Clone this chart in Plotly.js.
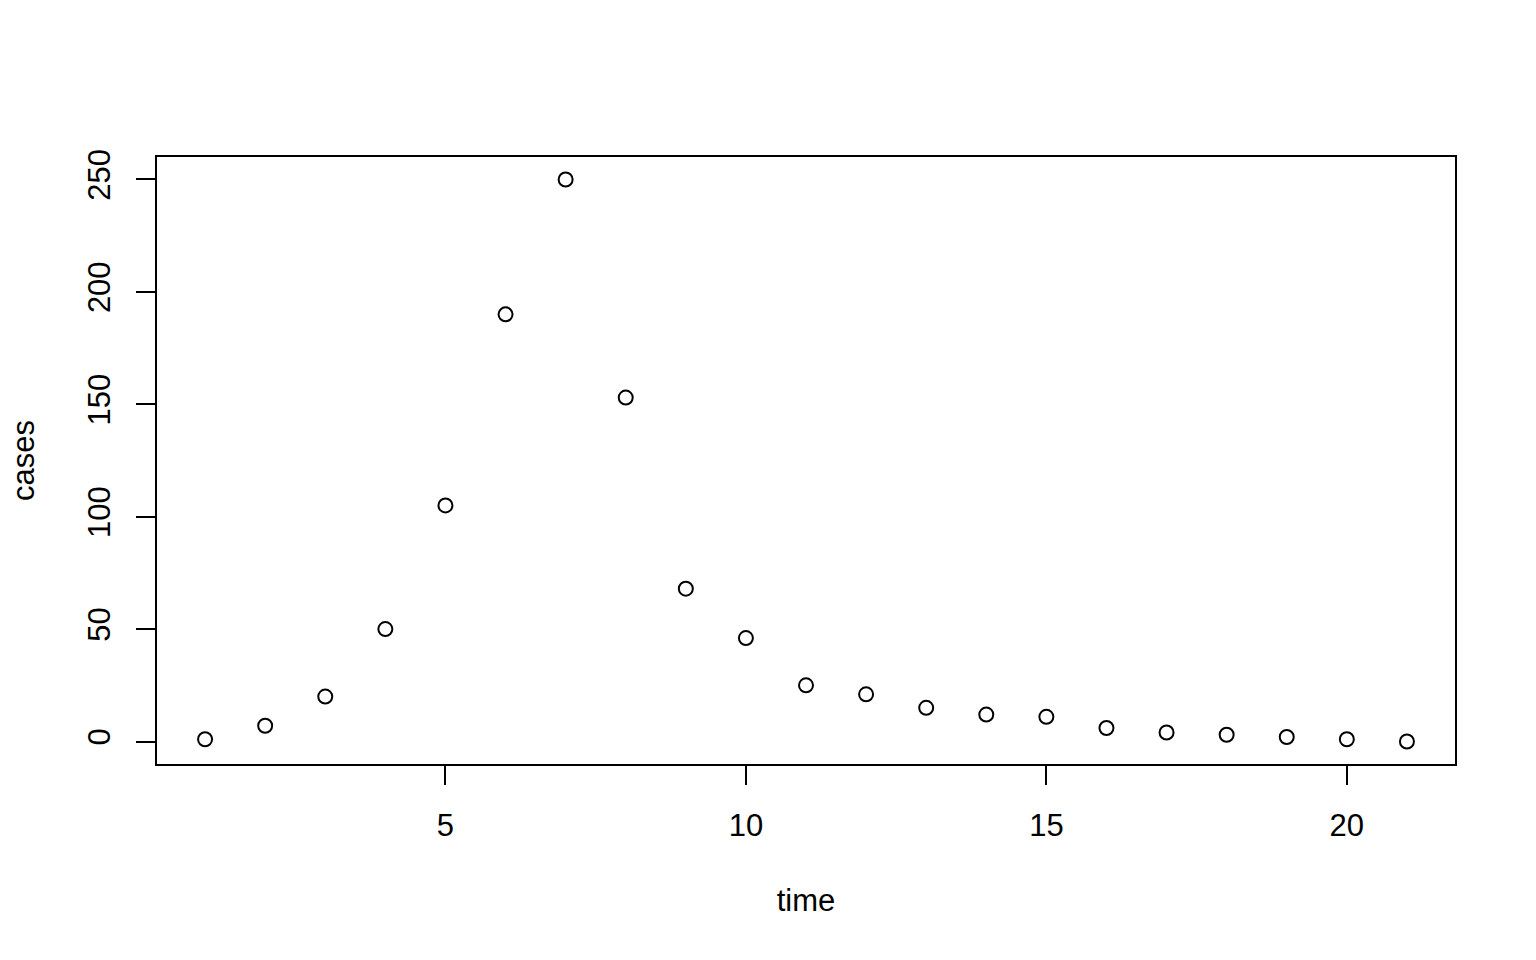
<!DOCTYPE html>
<html>
<head>
<meta charset="utf-8">
<script src="https://cdn.plot.ly/plotly-3.0.1.min.js"></script>
<style>html,body{margin:0;padding:0;background:#fff;}#chart{width:1536px;height:960px;}</style>
</head>
<body>
<div id="chart"></div>
<script>
const time = [1,2,3,4,5,6,7,8,9,10,11,12,13,14,15,16,17,18,19,20,21];
const cases = [1,7,20,50,105,190,250,153,68,46,25,21,15,12,11,6,4,3,2,1,0];
const xTicks = [5,10,15,20];
const yTicks = [0,50,100,150,200,250];

const FONT = 'Liberation Sans, Arial, Helvetica, sans-serif';
const FS = 31;

const trace = {
  x: time, y: cases, type: 'scatter', mode: 'markers',
  marker: {symbol: 'circle-open', size: 14, color: '#000', line: {color: '#000', width: 2}},
  hoverinfo: 'x+y'
};

const layout = {
  width: 1536, height: 960,
  paper_bgcolor: '#fff', plot_bgcolor: '#fff',
  margin: {l: 157, r: 81, t: 157, b: 196},
  showlegend: false,
  font: {family: FONT, size: FS, color: '#000'},
  xaxis: {
    range: [0.2, 21.8], tickvals: xTicks, ticktext: xTicks.map(String),
    ticks: 'outside', ticklen: 19, tickwidth: 2, tickcolor: '#000',
    ticklabelstandoff: 14,
    showline: true, mirror: true, linewidth: 2, linecolor: '#000',
    showgrid: false, zeroline: false, automargin: false,
    tickfont: {family: FONT, size: FS, color: '#000'},
    title: {text: 'time', font: {family: FONT, size: FS, color: '#000'}, standoff: 47}
  },
  yaxis: {
    range: [-10, 260], tickvals: yTicks, ticktext: yTicks.map(String),
    ticks: 'outside', ticklen: 19, tickwidth: 2, tickcolor: '#000', tickangle: -90,
    ticklabelstandoff: 14,
    showline: true, mirror: true, linewidth: 2, linecolor: '#000',
    showgrid: false, zeroline: false, automargin: false,
    tickfont: {family: FONT, size: FS, color: '#000'},
    title: {text: 'cases', font: {family: FONT, size: FS, color: '#000'}, standoff: 38}
  }
};

Plotly.newPlot('chart', [trace], layout, {displayModeBar: false, staticPlot: true});
</script>
</body>
</html>
